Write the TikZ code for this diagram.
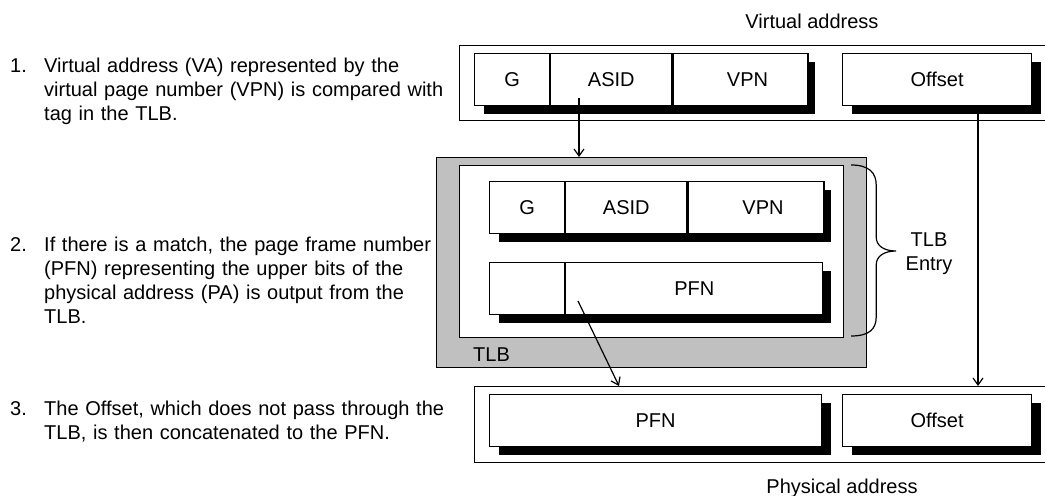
\documentclass[tikz,border=0pt]{standalone}
\usepackage{fontspec}
\setmainfont{Liberation Sans}
\usetikzlibrary{positioning,shadows,arrows.meta}
\definecolor{tlbgray}{RGB}{192,192,192}

\begin{document}
\begin{tikzpicture}[
        x=1bp, y=-1bp,
        node distance=0pt,
        every node/.style={font=\fontsize{20bp}{24bp}\selectfont},
        frame/.style={draw, line width=1.2bp, anchor=north west, inner sep=0pt},
        row/.style={draw, fill=white, line width=1.2bp, minimum height=52bp, inner sep=0pt, anchor=north west,
            drop shadow={shadow xshift=9bp, shadow yshift=-8bp, fill=black, opacity=1}},
        cell/.style={draw, fill=white, line width=1.2bp, minimum height=52bp, inner sep=0pt},
        note/.style={align=left, text width=410bp, anchor=base west, inner sep=0pt},
        arrow/.style={-{Straight Barb[length=7bp,width=10bp]}, line width=1.2bp},
        brace/.style={line width=1.2bp}
    ]
    \useasboundingbox (0,0) rectangle (1045,496);

    % Steps
    \node[anchor=base west, inner sep=0pt] (num1) at (10,73) {1.};
    \node[note] (step1) at (44,73) {Virtual address (VA) represented by the\\virtual page number (VPN) is compared with\\tag in the TLB.};
    \node[anchor=base west, inner sep=0pt] (num2) at (10,252) {2.};
    \node[note] (step2) at (44,252) {If there is a match, the page frame number\\(PFN) representing the upper bits of the\\physical address (PA) is output from the\\TLB.};
    \node[anchor=base west, inner sep=0pt] (num3) at (10,415) {3.};
    \node[note] (step3) at (44,415) {The Offset, which does not pass through the\\TLB, is then concatenated to the PFN.};

    % Frames
    \node[frame, minimum width=591bp, minimum height=75bp] (vaddr) at (459,45) {};
    \node[frame, minimum width=576bp, minimum height=76bp] (paddr) at (474,386) {};
    \node[frame, fill=tlbgray, minimum width=430bp, minimum height=210bp] (tlb) at (436,157) {};
    \node[frame, fill=white, minimum width=384bp, minimum height=172bp] (entry) at (459,165) {};

    % Virtual address fields
    \node[row, minimum width=331bp] (vtag) at (474,53) {};
    \node[cell, minimum width=75bp, anchor=north west] (vg) at (vtag.north west) {G};
    \node[cell, minimum width=121bp, right=of vg] (vasid) {ASID};
    \node[cell, minimum width=135bp, right=of vasid] (vvpn) {\hspace*{14bp}VPN};
    \node[row, minimum width=189bp] (voff) at (842,53) {Offset};

    % TLB entry fields
    \node[row, minimum width=332bp] (ttag) at (489,181) {};
    \node[cell, minimum width=75bp, anchor=north west] (tg) at (ttag.north west) {G};
    \node[cell, minimum width=121bp, right=of tg] (tasid) {ASID};
    \node[cell, minimum width=136bp, right=of tasid] (tvpn) {\hspace*{14bp}VPN};
    \node[row, minimum width=332bp] (tdata) at (489,262) {};
    \node[cell, minimum width=75bp, anchor=north west] (tflags) at (tdata.north west) {};
    \node[cell, minimum width=257bp, right=of tflags] (tpfn) {PFN};

    % Physical address fields
    \node[row, minimum width=332bp] (ppfn) at (489,394) {PFN};
    \node[row, minimum width=189bp] (poff) at (842,394) {Offset};

    % Labels
    \node (vlabel) at (812,21) {Virtual address};
    \node (plabel) at (842,488) {Physical address};
    \node[anchor=base west, inner sep=0pt] (tlblabel) at (473,362) {TLB};
    \node[anchor=base, align=center, text width=70bp, inner sep=0pt] (entrylabel) at (929,247) {TLB\\Entry};

    % Arrows
    \coordinate (asidtap) at (579,98);
    \coordinate (pfntap) at (578,301);
    \coordinate (pfnhit) at (619,386);
    \coordinate (offtap) at (978,106);
    \draw[arrow] (asidtap) -- (asidtap |- tlb.north);
    \draw[arrow] (pfntap) -- (pfnhit);
    \draw[arrow] (offtap) -- (offtap |- paddr.north);

    % Brace
    \draw[brace] ([xshift=7bp]entry.north east)
        .. controls +(18,0) and +(0,-12) .. ++(25,20) -- ++(0,52)
        .. controls +(0,9) and +(-12,0) .. ++(20,14)
        .. controls +(-12,0) and +(0,-9) .. ++(-20,14) -- ++(0,52)
        .. controls +(0,12) and +(18,0) .. ++(-25,19);
\end{tikzpicture}
\end{document}
